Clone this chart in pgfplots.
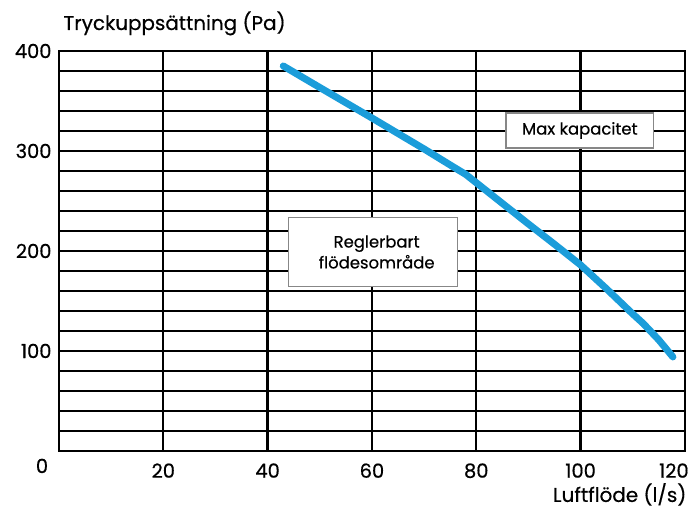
\documentclass[border=0pt]{standalone}
\usepackage{fontspec}
\setmainfont{Poppins}[FakeBold=0.5]
\usepackage{pgfplots}
\pgfplotsset{compat=1.18}
\definecolor{curveblue}{RGB}{27,157,218}
\definecolor{boxgray}{RGB}{135,135,135}
\begin{document}
\begin{tikzpicture}
\begin{axis}[
  width=626bp, height=400bp, scale only axis,
  xmin=0, xmax=120, ymin=0, ymax=400,
  xtick={0,20,...,120}, ytick={0,100,...,400},
  minor ytick={20,40,60,80,120,140,160,180,220,240,260,280,320,340,360,380},
  xticklabels={,20,40,60,80,100,},
  yticklabels={,100,200,300,400},
  grid=both,
  major grid style={black, line width=2.3bp},
  minor grid style={black, line width=1.2bp},
  axis line style={black, line width=2.6bp},
  major tick length=0pt, minor tick length=0pt,
  tick style={draw=none},
  clip=false,
  /pgf/number format/assume math mode=true,
  tick label style={font=\fontsize{19.5}{22}\selectfont},
  yticklabel style={xshift=-4bp},
  xticklabel style={yshift=-9bp},
]
\addplot[curveblue, line width=7bp, line cap=round, line join=round] coordinates {
(43,385) (50,363.5) (60,333) (70,302) (75,286) (78,276.5) (82,260) (86,243.5) (90,227) (95,206.7) (100,186) (105,162) (110,137) (112,127.5) (115,111) (117.7,94)
};
\draw[boxgray, line width=1.4bp, fill=white] (axis cs:85.7,338) rectangle (axis cs:114,303);
\node[font=\fontsize{16.5}{19}\selectfont] at (axis cs:99.85,320.5) {Max kapacitet};
\draw[boxgray, line width=1.4bp, fill=white] (axis cs:44,233.7) rectangle (axis cs:76.4,164.3);
\node[font=\fontsize{16.5}{21}\selectfont, align=center] at (axis cs:60.9,199) {Reglerbart\\flödesområde};
\node[font=\fontsize{19.5}{22}\selectfont] at (axis cs:0,0) [xshift=-17bp, yshift=-15bp] {0};
\node[font=\fontsize{19.5}{22}\selectfont, anchor=north] at (axis cs:120,0) [xshift=-11bp, yshift=-9bp] {120};
\node[font=\fontsize{20}{22}\selectfont, anchor=base west] at (rel axis cs:0,1) [xshift=1bp, yshift=21bp] {Tryckuppsättning (Pa)};
\node[font=\fontsize{20}{22}\selectfont, anchor=base east] at (rel axis cs:1,0) [xshift=5bp, yshift=-51bp] {Luftflöde (l/s)};
\end{axis}
\path (current axis.south west) ++(-59bp,-61bp);
\path (current axis.north east) ++(7bp,51bp);
\end{tikzpicture}
\end{document}
